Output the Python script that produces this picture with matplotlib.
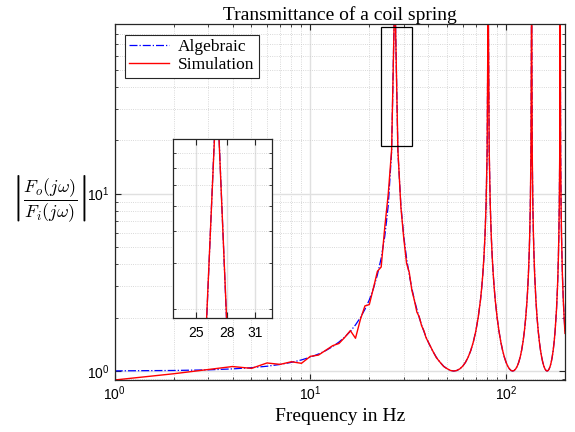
import matplotlib
matplotlib.use("Agg")
import matplotlib.pyplot as plt
from matplotlib.patches import Rectangle
from matplotlib.ticker import LogLocator, NullFormatter, FixedLocator, FixedFormatter, NullLocator

plt.rcParams['font.family'] = ['Liberation Sans', 'DejaVu Sans']
plt.rcParams['mathtext.fontset'] = 'cm'

# frequency samples (Hz)
freq = [1, 2, 3, 4, 5, 6, 7, 8, 9, 10, 11, 12, 13, 14, 15, 16, 17, 18, 19, 20,
        21, 22, 23, 24, 25, 26, 27, 28, 29, 30, 31, 32, 33, 34, 35, 36, 37, 38, 39, 40,
        42, 44, 46, 48, 50, 52, 54, 56, 58, 60, 62, 64, 66, 68, 70, 72, 74,
        75, 76, 77, 78, 79, 80, 81, 82, 83, 84, 85, 86, 87, 88,
        90, 92, 94, 96, 98, 100, 102, 104, 106, 108, 110, 112, 114, 116, 118, 120, 122, 124, 126, 128,
        129, 130, 131, 132, 133, 134, 135, 136, 137, 138, 139, 140, 141, 142,
        144, 146, 148, 150, 152, 154, 156, 158, 160, 162, 164, 166, 168, 170, 172, 174, 176, 178, 180,
        181, 182, 183, 184, 185, 186, 187, 188, 189, 190, 191, 192, 193, 194, 195, 196, 197, 198, 199, 200]

algebraic = [1.002, 1.007, 1.015, 1.028, 1.044, 1.064, 1.089, 1.119, 1.155, 1.197,
             1.247, 1.305, 1.375, 1.457, 1.556, 1.675, 1.820, 2.000, 2.228, 2.518,
             2.924, 3.487, 4.336, 5.759, 8.614, 17.20, 150.0, 17.20, 8.614, 5.759,
             4.336, 3.487, 2.924, 2.518, 2.228, 2.000, 1.820, 1.675, 1.556, 1.457,
             1.305, 1.197, 1.119, 1.064, 1.028, 1.007, 1.000, 1.007, 1.028, 1.064,
             1.119, 1.197, 1.305, 1.457, 1.675, 2.000, 2.518,
             2.924, 3.487, 4.336, 5.759, 8.614, 17.20, 150.0, 17.20, 8.614, 5.759, 4.336, 3.487, 2.924, 2.518,
             2.000, 1.675, 1.457, 1.305, 1.197, 1.119, 1.064, 1.028, 1.007, 1.000,
             1.007, 1.028, 1.064, 1.119, 1.197, 1.305, 1.457, 1.675, 2.000, 2.518,
             2.924, 3.487, 4.336, 5.759, 8.614, 17.20, 150.0, 17.20, 8.614, 5.759, 4.336, 3.487, 2.924, 2.518,
             2.000, 1.675, 1.457, 1.305, 1.197, 1.119, 1.064, 1.028, 1.007, 1.000,
             1.007, 1.028, 1.064, 1.119, 1.197, 1.305, 1.457, 1.675, 2.000,
             2.228, 2.518, 2.924, 3.487, 4.336, 5.759, 8.614, 17.20, 150.0, 17.20,
             8.614, 5.759, 4.336, 3.487, 2.924, 2.518, 2.228, 2.000, 1.820, 1.675]

simulation = [0.89, 0.965, 1.02, 1.06, 1.035, 1.11, 1.09, 1.128, 1.105, 1.21,
              1.23, 1.31, 1.39, 1.43, 1.55, 1.69, 1.53, 1.95, 2.33, 2.37,
              2.94, 3.65, 3.86, 6.5, 10.0, 17.6, 145.0, 17.6, 8.4, 5.6,
              4.05, 3.6, 2.85, 2.5, 2.15, 2.02, 1.80, 1.69, 1.54, 1.46,
              1.31, 1.19, 1.12, 1.06, 1.03, 1.007, 1.000, 1.007, 1.028, 1.064,
              1.119, 1.197, 1.305, 1.457, 1.675, 2.000, 2.518,
              2.924, 3.487, 4.336, 5.759, 8.614, 17.20, 150.0, 17.20, 8.614, 5.759, 4.336, 3.487, 2.924, 2.518,
              2.000, 1.675, 1.457, 1.305, 1.197, 1.119, 1.064, 1.028, 1.007, 1.000,
              1.007, 1.028, 1.064, 1.119, 1.197, 1.305, 1.457, 1.675, 2.000, 2.518,
              2.924, 3.487, 4.336, 5.759, 8.614, 17.20, 150.0, 17.20, 8.614, 5.759, 4.336, 3.487, 2.924, 2.518,
              2.000, 1.675, 1.457, 1.305, 1.197, 1.119, 1.064, 1.028, 1.007, 1.000,
              1.007, 1.028, 1.064, 1.119, 1.197, 1.305, 1.457, 1.675, 2.000,
              2.228, 2.518, 2.924, 3.487, 4.336, 5.759, 8.614, 17.20, 150.0, 17.20,
              8.614, 5.759, 4.336, 3.487, 2.924, 2.518, 2.228, 2.000, 1.80, 1.63]

inset_ticks = [25, 28, 31]
inset_labels = ['25', '28', '31']

serif = ['Liberation Serif', 'DejaVu Serif']
edge = (0.15, 0.15, 0.15)
major_grid = (0.88, 0.88, 0.88)
minor_grid = (0.80, 0.80, 0.80)


def style_axes(a):
    for s in a.spines.values():
        s.set_color(edge)
        s.set_linewidth(0.9)
    a.tick_params(which='both', direction='in', top=True, right=True, colors=edge,
                  labelcolor='black', labelsize=10)
    a.tick_params(which='major', length=4, width=0.8)
    a.tick_params(which='minor', length=2.5, width=0.6)
    a.grid(True, which='major', color=major_grid, linestyle='-', linewidth=1.0)
    a.grid(True, which='minor', color=minor_grid, linestyle=':', linewidth=0.6)
    a.set_axisbelow(True)


fig = plt.figure(figsize=(5.75, 4.32), dpi=100)
ax = fig.add_axes([0.1995, 0.1204, 0.7831, 0.8229])

ax.loglog(freq, algebraic, color='b', linestyle='-.', linewidth=0.9, label='Algebraic')
ax.loglog(freq, simulation, color='r', linestyle='-', linewidth=1.0, label='Simulation')
ax.set_xlim(1, 200)
ax.set_ylim(0.89, 90)
style_axes(ax)
ax.yaxis.set_major_locator(LogLocator(base=10))
ax.yaxis.set_minor_locator(LogLocator(base=10, subs=range(2, 10)))
ax.yaxis.set_minor_formatter(NullFormatter())
ax.xaxis.set_minor_formatter(NullFormatter())

ax.set_title('Transmittance of a coil spring', family=serif, fontsize=14, pad=3)
ax.set_xlabel('Frequency in Hz', family=serif, fontsize=14, labelpad=3)
ax.set_ylabel(r'$\left|\dfrac{F_o(j\omega)}{F_i(j\omega)}\right|$', rotation=0,
              fontsize=13, ha='center', va='center')
ax.yaxis.set_label_coords(-0.145, 0.51)

leg = ax.legend(loc='upper left', bbox_to_anchor=(0.0, 1.0), borderaxespad=0.6,
                prop={'family': serif, 'size': 12.5}, fancybox=False,
                framealpha=1, edgecolor=edge, handlelength=2.3,
                labelspacing=0.1, borderpad=0.25, handletextpad=0.5)
leg.get_frame().set_linewidth(0.8)

# zoom box around the first resonance
ax.add_patch(Rectangle((23, 18.5), 10, 68.5, fill=False, edgecolor='black',
                       linewidth=0.9, zorder=5))

# inset
axi = fig.add_axes([0.3003, 0.2646, 0.1727, 0.4125])
axi.loglog(freq, algebraic, color='b', linestyle='-.', linewidth=0.9)
axi.loglog(freq, simulation, color='r', linestyle='-', linewidth=1.0)
axi.set_xlim(23, 33)
axi.set_ylim(18.5, 90)
style_axes(axi)
axi.xaxis.set_major_locator(FixedLocator(inset_ticks))
axi.xaxis.set_major_formatter(FixedFormatter(inset_labels))
axi.xaxis.set_minor_locator(NullLocator())
axi.yaxis.set_minor_locator(LogLocator(base=10, subs=range(2, 10)))
axi.yaxis.set_major_formatter(NullFormatter())
axi.yaxis.set_minor_formatter(NullFormatter())
axi.tick_params(axis='x', labelsize=10, pad=6)

fig.savefig('out.png', dpi=100)
